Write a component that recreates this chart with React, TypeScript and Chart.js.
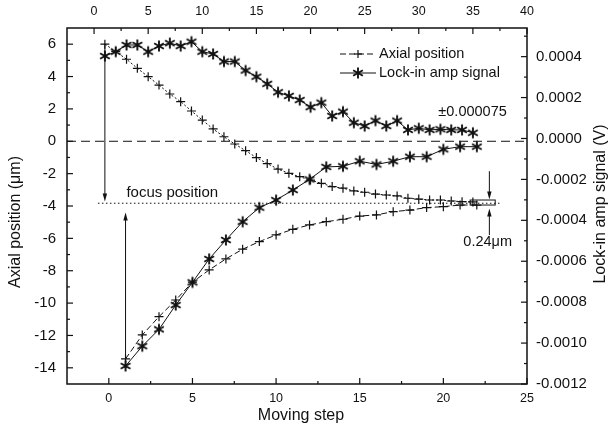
import React, { useEffect, useRef } from "react";
import { Chart, registerables } from "chart.js";

Chart.register(...registerables);

const FONT = "'Liberation Sans', Arial, sans-serif";
const INK = "#111";

// Upper pair of curves, plotted against the top x axis (0..40)
const topSteps = [1, 2, 3, 4, 5, 6, 7, 8, 9, 10, 11, 12, 13, 14, 15, 16, 17, 18, 19, 20, 21, 22, 23, 24, 25, 26, 27, 28, 29, 30, 31, 32, 33, 34, 35];
const upperAxial = [6.0, 5.55, 5.07, 4.51, 3.99, 3.47, 2.92, 2.45, 1.87, 1.31, 0.76, 0.28, -0.17, -0.58, -1.01, -1.38, -1.72, -1.98, -2.19, -2.4, -2.6, -2.8, -2.9, -3.07, -3.15, -3.26, -3.32, -3.38, -3.52, -3.57, -3.63, -3.63, -3.69, -3.73, -3.75];
const upperLockin = [0.000403, 0.000424, 0.000457, 0.000457, 0.000424, 0.000452, 0.000466, 0.000452, 0.000473, 0.000424, 0.000413, 0.000376, 0.000376, 0.000332, 0.000302, 0.000267, 0.000226, 0.000208, 0.000188, 0.000153, 0.000175, 0.00011, 0.000131, 0.000077, 0.000061, 0.000087, 0.000061, 0.000087, 0.000042, 0.00005, 0.000042, 0.000045, 0.000042, 0.000042, 0.000028];

// Lower pair of curves, plotted against the bottom x axis (Moving step)
const bottomSteps = [1, 2, 3, 4, 5, 6, 7, 8, 9, 10, 11, 12, 13, 14, 15, 16, 17, 18, 19, 20, 21, 22];
const lowerAxial = [-13.45, -11.97, -10.84, -9.81, -8.71, -7.95, -7.27, -6.67, -6.2, -5.79, -5.44, -5.17, -4.97, -4.82, -4.62, -4.55, -4.35, -4.25, -4.1, -4.04, -3.94, -3.94];
const lowerLockin = [-0.001112, -0.001015, -0.000933, -0.000814, -0.000703, -0.000589, -0.000496, -0.000407, -0.000338, -0.000301, -0.000252, -0.0002, -0.000139, -0.000136, -0.000111, -0.000127, -0.000111, -0.000089, -0.000089, -0.000053, -0.00004, -0.00004];

// Tick labels
const bottomTicks = [0, 5, 10, 15, 20, 25];
const topTicks = [0, 5, 10, 15, 20, 25, 30, 35, 40];
const leftTicks = [-14, -12, -10, -8, -6, -4, -2, 0, 2, 4, 6];
const rightTicks = [-0.0012, -0.001, -0.0008, -0.0006, -0.0004, -0.0002, 0, 0.0002, 0.0004];
const bottomMinor = [2.5, 7.5, 12.5, 17.5, 22.5];
const topMinor = [2.5, 7.5, 12.5, 17.5, 22.5, 27.5, 32.5, 37.5];
const leftMinor = [-13, -11, -9, -7, -5, -3, -1, 1, 3, 5];
const rightMinor = [-0.0011, -0.0009, -0.0007, -0.0005, -0.0003, -0.0001, 0.0001, 0.0003, 0.0005];

// Annotations
const focusPosition = -3.83;
const focusText = "focus position";
const offsetText = "±0.000075";
const resolutionText = "0.24μm";
const legendLabels = ["Axial position", "Lock-in amp signal"];

let starImage: HTMLCanvasElement | null = null;

function makeStar(): HTMLCanvasElement {
  const c = document.createElement("canvas");
  c.width = 14;
  c.height = 14;
  const g = c.getContext("2d")!;
  g.strokeStyle = INK;
  g.lineWidth = 1.9;
  const r = 5.6;
  [90, 30, 150].forEach((deg) => {
    const a = (deg * Math.PI) / 180;
    g.beginPath();
    g.moveTo(7 - r * Math.cos(a), 7 - r * Math.sin(a));
    g.lineTo(7 + r * Math.cos(a), 7 + r * Math.sin(a));
    g.stroke();
  });
  return c;
}

function arrow(ctx: CanvasRenderingContext2D, x: number, from: number, tip: number) {
  const dir = Math.sign(tip - from);
  ctx.beginPath();
  ctx.moveTo(x, from);
  ctx.lineTo(x, tip - dir * 6);
  ctx.stroke();
  ctx.beginPath();
  ctx.moveTo(x, tip);
  ctx.lineTo(x - 2.2, tip - dir * 8);
  ctx.lineTo(x + 2.2, tip - dir * 8);
  ctx.closePath();
  ctx.fill();
}

const decorPlugin = {
  id: "decor",
  afterDatasetsDraw(chart: any) {
    const { ctx, chartArea: a, scales } = chart;
    const x = scales.x, x2 = scales.x2, y = scales.y;
    ctx.save();
    ctx.strokeStyle = INK;
    ctx.fillStyle = INK;
    ctx.lineWidth = 1;

    // zero line (dashed)
    ctx.setLineDash([9, 5]);
    ctx.beginPath();
    ctx.moveTo(a.left, y.getPixelForValue(0));
    ctx.lineTo(a.right, y.getPixelForValue(0));
    ctx.stroke();

    // focus position (dotted)
    ctx.setLineDash([1.5, 2.5]);
    const fy = y.getPixelForValue(focusPosition);
    ctx.beginPath();
    ctx.moveTo(x.getPixelForValue(-0.65), fy);
    ctx.lineTo(x.getPixelForValue(23.5), fy);
    ctx.stroke();
    ctx.setLineDash([]);

    // arrows
    arrow(ctx, x2.getPixelForValue(topSteps[0]), y.getPixelForValue(upperAxial[0]), y.getPixelForValue(-3.72));
    arrow(ctx, x.getPixelForValue(bottomSteps[0]), y.getPixelForValue(-13.9), y.getPixelForValue(-4.4));
    const rx = x.getPixelForValue(22.75);
    arrow(ctx, rx, y.getPixelForValue(-1.85), y.getPixelForValue(-3.6));
    arrow(ctx, rx, y.getPixelForValue(-5.8), y.getPixelForValue(-4.15));
    // small box
    const bx1 = x.getPixelForValue(21.6), bx2 = x.getPixelForValue(23.1);
    const by1 = y.getPixelForValue(-3.63), by2 = y.getPixelForValue(-3.94);
    ctx.strokeRect(bx1, by1, bx2 - bx1, by2 - by1);

    // texts
    ctx.textBaseline = "middle";
    ctx.textAlign = "left";
    ctx.font = `15px ${FONT}`;
    ctx.fillText(focusText, x.getPixelForValue(1.05), y.getPixelForValue(-3.2));
    ctx.font = `14.5px ${FONT}`;
    ctx.fillText(offsetText, x.getPixelForValue(19.7), y.getPixelForValue(1.83));
    ctx.textAlign = "center";
    ctx.fillText(resolutionText, x.getPixelForValue(22.65), y.getPixelForValue(-6.25));
    ctx.restore();
  },
  afterDraw(chart: any) {
    const { ctx, chartArea: a, scales } = chart;
    ctx.save();
    ctx.strokeStyle = INK;
    ctx.fillStyle = INK;
    // frame
    ctx.lineWidth = 1.5;
    ctx.strokeRect(a.left, a.top, a.right - a.left, a.bottom - a.top);
    ctx.lineWidth = 1.2;
    const tick = (x1: number, y1: number, x2: number, y2: number) => {
      ctx.beginPath();
      ctx.moveTo(x1, y1);
      ctx.lineTo(x2, y2);
      ctx.stroke();
    };
    bottomTicks.forEach((v) => { const p = scales.x.getPixelForValue(v); tick(p, a.bottom, p, a.bottom - 6); });
    bottomMinor.forEach((v) => { const p = scales.x.getPixelForValue(v); tick(p, a.bottom, p, a.bottom - 3); });
    topTicks.forEach((v) => { const p = scales.x2.getPixelForValue(v); tick(p, a.top, p, a.top + 6); });
    topMinor.forEach((v) => { const p = scales.x2.getPixelForValue(v); tick(p, a.top, p, a.top + 3); });
    leftTicks.forEach((v) => { const p = scales.y.getPixelForValue(v); tick(a.left, p, a.left + 6, p); });
    leftMinor.forEach((v) => { const p = scales.y.getPixelForValue(v); tick(a.left, p, a.left + 3, p); });
    rightTicks.forEach((v) => { const p = scales.y2.getPixelForValue(v); tick(a.right, p, a.right - 6, p); });
    rightMinor.forEach((v) => { const p = scales.y2.getPixelForValue(v); tick(a.right, p, a.right - 3, p); });

    // axis titles
    ctx.font = `16px ${FONT}`;
    ctx.textAlign = "center";
    ctx.textBaseline = "middle";
    ctx.fillText("Moving step", (a.left + a.right) / 2 + 4, 416);
    ctx.save();
    ctx.translate(16, 222);
    ctx.rotate(-Math.PI / 2);
    ctx.fillText("Axial position (μm)", 0, 0);
    ctx.restore();
    ctx.save();
    ctx.translate(601, 204);
    ctx.rotate(-Math.PI / 2);
    ctx.fillText("Lock-in amp signal (V)", 0, 0);
    ctx.restore();

    // legend
    ctx.lineWidth = 1;
    const lx1 = 340, lx2 = 376, lm = 358;
    const ly1 = 54, ly2 = 73;
    ctx.setLineDash([6, 3]);
    tick(lx1, ly1, lx2, ly1);
    ctx.setLineDash([]);
    ctx.lineWidth = 1.2;
    tick(lm - 4, ly1, lm + 4, ly1);
    tick(lm, ly1 - 4, lm, ly1 + 4);
    ctx.lineWidth = 1;
    tick(lx1, ly2, lx2, ly2);
    if (starImage) ctx.drawImage(starImage, lm - 7, ly2 - 7);
    ctx.font = `14.5px ${FONT}`;
    ctx.textAlign = "left";
    ctx.fillText(legendLabels[0], 379, ly1);
    ctx.fillText(legendLabels[1], 379, ly2);
    ctx.restore();
  },
};

export default function App() {
  const ref = useRef<HTMLCanvasElement>(null);
  useEffect(() => {
    if (!ref.current) return;
    const star = makeStar();
    starImage = star;
    const tickFont = { family: FONT, size: 15 };
    const smallFont = { family: FONT, size: 12.5 };
    const setTicks = (vals: number[]) => (s: any) => {
      s.ticks = vals.map((v) => ({ value: v }));
    };
    const common = {
      type: "linear" as const,
      grid: { display: false, drawTicks: false },
      border: { display: false },
    };
    const chart = new Chart(ref.current, {
      type: "line",
      data: {
        datasets: [
          {
            label: "Axial position (upper)",
            data: topSteps.map((s, i) => ({ x: s, y: upperAxial[i] })),
            xAxisID: "x2",
            yAxisID: "y",
            borderColor: INK,
            borderWidth: 1,
            borderDash: [2, 2],
            pointStyle: "cross",
            pointRadius: 4.5,
            pointBorderWidth: 1.2,
            pointBorderColor: INK,
            fill: false,
          },
          {
            label: "Lock-in amp signal (upper)",
            data: topSteps.map((s, i) => ({ x: s, y: upperLockin[i] })),
            xAxisID: "x2",
            yAxisID: "y2",
            borderColor: INK,
            borderWidth: 1,
            pointStyle: star,
            fill: false,
          },
          {
            label: "Axial position (lower)",
            data: bottomSteps.map((s, i) => ({ x: s, y: lowerAxial[i] })),
            xAxisID: "x",
            yAxisID: "y",
            borderColor: INK,
            borderWidth: 1,
            borderDash: [6, 3],
            pointStyle: "cross",
            pointRadius: 4.5,
            pointBorderWidth: 1.2,
            pointBorderColor: INK,
            fill: false,
          },
          {
            label: "Lock-in amp signal (lower)",
            data: bottomSteps.map((s, i) => ({ x: s, y: lowerLockin[i] })),
            xAxisID: "x",
            yAxisID: "y2",
            borderColor: INK,
            borderWidth: 1,
            pointStyle: star,
            fill: false,
          },
        ],
      },
      options: {
        animation: false,
        responsive: false,
        maintainAspectRatio: false,
        layout: { padding: 0 },
        plugins: { legend: { display: false }, tooltip: { enabled: false } },
        scales: {
          x: {
            ...common,
            position: "bottom",
            min: -2.5,
            max: 25,
            afterBuildTicks: setTicks(bottomTicks),
            afterFit: (s: any) => { s.height = 48; },
            ticks: { font: smallFont, color: INK, padding: 7, maxRotation: 0, autoSkip: false },
          },
          x2: {
            ...common,
            position: "top",
            min: -2.5,
            max: 40,
            afterBuildTicks: setTicks(topTicks),
            afterFit: (s: any) => { s.height = 28; },
            ticks: { font: smallFont, color: INK, padding: 9, maxRotation: 0, autoSkip: false },
          },
          y: {
            ...common,
            position: "left",
            min: -15,
            max: 7,
            afterBuildTicks: setTicks(leftTicks),
            afterFit: (s: any) => { s.width = 67; },
            ticks: { font: tickFont, color: INK, padding: 11, autoSkip: false },
          },
          y2: {
            ...common,
            position: "right",
            min: -0.0012,
            max: 0.00054,
            afterBuildTicks: setTicks(rightTicks),
            afterFit: (s: any) => { s.width = 87; },
            ticks: {
              font: tickFont,
              color: INK,
              padding: 9,
              autoSkip: false,
              callback: (v: any) => Number(v).toFixed(4),
            },
          },
        },
      },
      plugins: [decorPlugin],
    } as any);
    return () => chart.destroy();
  }, []);
  return (
    <div style={{ position: "fixed", left: 0, top: 0, width: 614, height: 432, background: "#fff" }}>
      <canvas ref={ref} width={614} height={432} style={{ display: "block", width: 614, height: 432 }} />
    </div>
  );
}
